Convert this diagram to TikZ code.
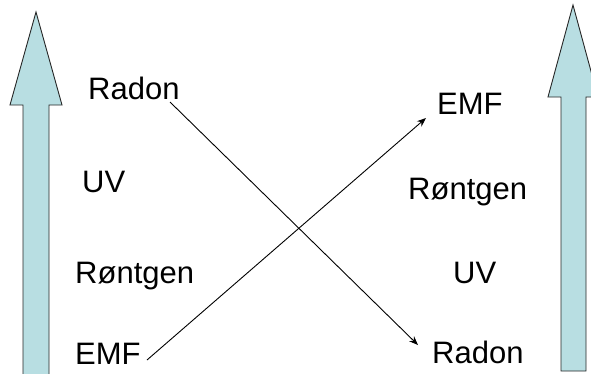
\documentclass[tikz,border=0pt]{standalone}
\usepackage{fontspec}
\setmainfont{Liberation Sans}
\usetikzlibrary{arrows.meta}
\definecolor{shaftblue}{RGB}{184,222,226}
\tikzset{
  blockarrow/.style={draw=black!85, line width=0.9pt, fill=shaftblue, line join=miter},
  label/.style={inner sep=0pt, anchor=base west, font=\fontsize{31}{36}\selectfont},
  link/.style={draw=black, line width=0.9pt, -{Stealth[length=9pt,width=7pt]}}
}
\begin{document}
\begin{tikzpicture}[x=1pt,y=-1pt]
  \useasboundingbox (0,0) rectangle (591,373);
  \clip (0,0) rectangle (591,373);
  % left upward block arrow
  \draw[blockarrow] (23,380) -- (23,105) -- (10,105) -- (36,12) -- (62,105) -- (49,105) -- (49,380) -- cycle;
  % right upward block arrow
  \draw[blockarrow] (561,371) -- (561,97) -- (548,97) -- (573,5) -- (598,97) -- (586,97) -- (586,371) -- cycle;
  % left column
  \node[label] (radonL) at (88,99) {Radon};
  \node[label] (uvL) at (82,192) {UV};
  \node[label] (rontL) at (75,283) {Røntgen};
  \node[label] (emfL) at (75,364) {EMF};
  % right column
  \node[label] (emfR) at (437,114) {EMF};
  \node[label] (rontR) at (408,199) {Røntgen};
  \node[label] (uvR) at (453,283) {UV};
  \node[label] (radonR) at (432,363) {Radon};
  % connector end points
  \coordinate (radonFrom) at (170,102);
  \coordinate (radonTo) at (418,345);
  \coordinate (emfFrom) at (147,360);
  \coordinate (emfTo) at (426,118);
  \draw[link] (radonFrom) -- (radonTo);
  \draw[link] (emfFrom) -- (emfTo);
\end{tikzpicture}
\end{document}
